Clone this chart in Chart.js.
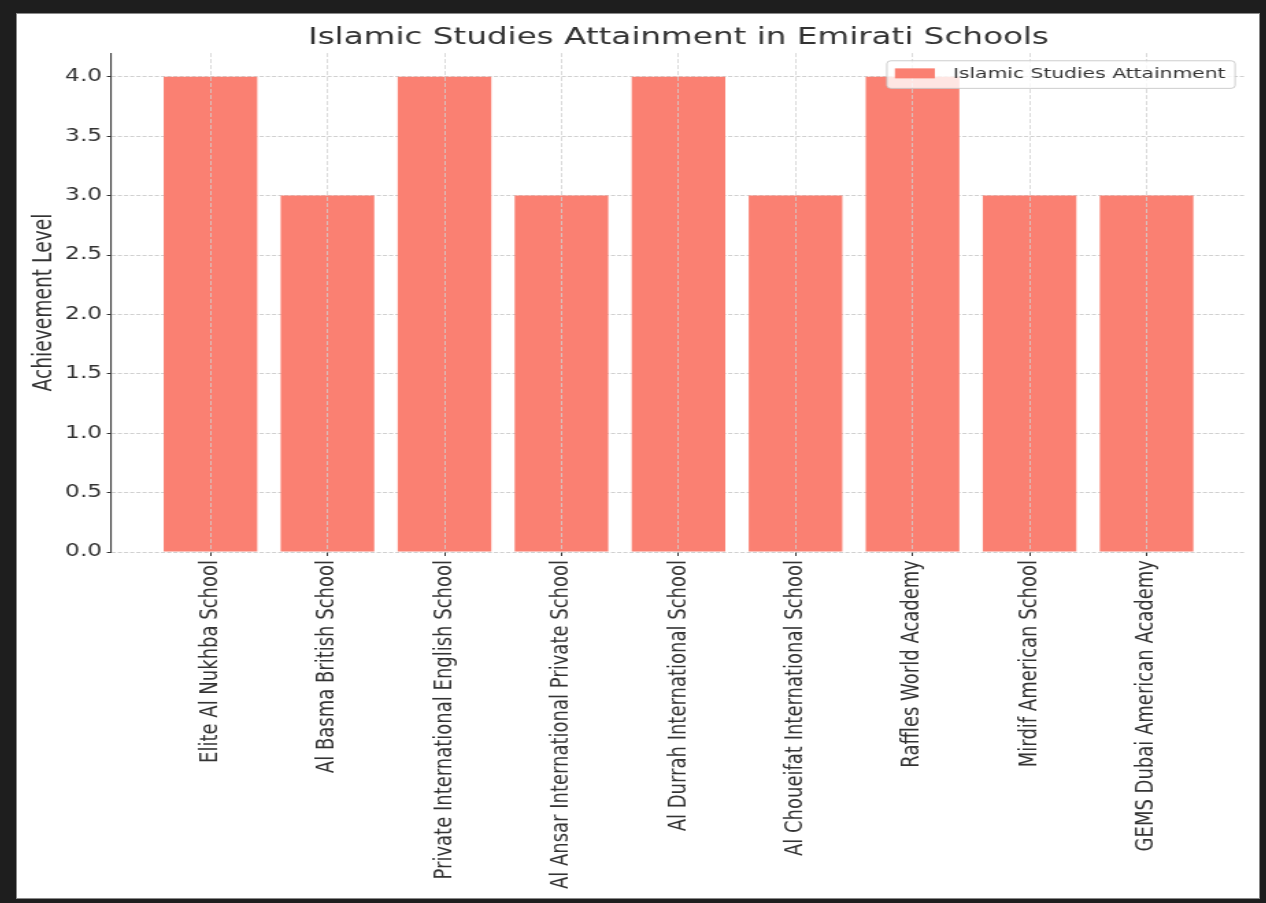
<!DOCTYPE html>
<html>
<head>
<meta charset="utf-8">
<script src="https://cdn.jsdelivr.net/npm/chart.js@4.4.1/dist/chart.umd.min.js"></script>
<style>
  html, body { margin: 0; padding: 0; background: #1e1e1e; }
  body { width: 1266px; height: 903px; position: relative; overflow: hidden; }
  #frame { position: absolute; left: 17px; top: 14px; width: 1242px; height: 884px; background: #fff; box-shadow: 0 0 0 1px #8a8a8a; overflow: hidden; }
  /* the source picture is stretched sideways, so the canvas is too */
  #chart { position: absolute; left: 0; top: -2px; transform: scaleX(1.37); transform-origin: 0 0; }
</style>
</head>
<body>
<div id="frame"><canvas id="chart" width="906" height="886"></canvas></div>
<script>
const chartTitle = 'Islamic Studies Attainment in Emirati Schools';
const seriesLabel = 'Islamic Studies Attainment';
const yAxisTitle = 'Achievement Level';
const schools = [
  'Elite Al Nukhba School',
  'Al Basma British School',
  'Private International English School',
  'Al Ansar International Private School',
  'Al Durrah International School',
  'Al Choueifat International School',
  'Raffles World Academy',
  'Mirdif American School',
  'GEMS Dubai American Academy'
];
const attainment = [4, 3, 4, 3, 4, 3, 4, 3, 3];
const yTickValues = [0, 0.5, 1, 1.5, 2, 2.5, 3, 3.5, 4];

const FONT = 'DejaVu Sans';
const TEXT = '#333333';
const GRID = '#d0d0d0';

// matplotlib-like legend with a frame, drawn on top of bars and grid
const legendBox = {
  id: 'legendBox',
  afterDraw(chart) {
    const ctx = chart.ctx;
    const area = chart.chartArea;
    const ds = chart.data.datasets[0];
    ctx.save();
    ctx.font = '14.8px "' + FONT + '"';
    const textW = ctx.measureText(ds.label).width;
    const w = 5.8 + 29.2 + 13.2 + textW + 7;
    const h = 27.6;
    const right = area.right - 8;
    const top = area.top + 7.7;
    const left = right - w;
    ctx.beginPath();
    if (ctx.roundRect) ctx.roundRect(left, top, w, h, 3);
    else ctx.rect(left, top, w, h);
    ctx.fillStyle = 'rgba(255,255,255,0.8)';
    ctx.fill();
    ctx.strokeStyle = 'rgba(200,200,200,0.9)';
    ctx.lineWidth = 1;
    ctx.stroke();
    ctx.fillStyle = ds.backgroundColor;
    ctx.fillRect(left + 5.8, top + 7.6, 29.2, 10);
    ctx.fillStyle = TEXT;
    ctx.textBaseline = 'middle';
    ctx.fillText(ds.label, left + 5.8 + 29.2 + 13.2, top + h / 2);
    ctx.restore();
  }
};

new Chart(document.getElementById('chart'), {
  type: 'bar',
  data: {
    datasets: [{
      label: seriesLabel,
      data: schools.map((s, i) => ({ x: i, y: attainment[i] })),
      backgroundColor: '#FA8072',
      borderWidth: 0,
      barPercentage: 0.8,
      categoryPercentage: 1.0
    }]
  },
  options: {
    responsive: false,
    animation: false,
    devicePixelRatio: 1,
    layout: { padding: { left: 0, right: 8.9, top: 0, bottom: 0 } },
    plugins: {
      legend: { display: false },
      tooltip: { enabled: false },
      title: {
        display: true,
        text: chartTitle,
        fullSize: false,
        color: TEXT,
        font: { family: FONT, size: 23.8, weight: 'normal' },
        padding: { top: 11.6, bottom: 0.9 }
      }
    },
    scales: {
      x: {
        type: 'linear',
        min: -0.85,
        max: 8.85,
        offset: false,
        afterFit: s => { s.height = 346; },
        afterBuildTicks: s => { s.ticks = schools.map((n, i) => ({ value: i })); },
        ticks: {
          callback: v => schools[v],
          autoSkip: false,
          minRotation: 90,
          maxRotation: 90,
          padding: 4,
          color: TEXT,
          font: { family: FONT, size: 18 }
        },
        grid: {
          offset: false,
          z: 1,
          color: GRID,
          lineWidth: 0.8,
          tickLength: 4,
          tickColor: TEXT,
          tickWidth: 1,
          tickBorderDash: []
        },
        border: { color: '#3a3a3a', width: 1.5, dash: [4, 2] }
      },
      y: {
        min: 0,
        max: 4.2,
        afterFit: s => { s.width = 68.6; },
        afterBuildTicks: s => { s.ticks = yTickValues.map(v => ({ value: v })); },
        ticks: {
          callback: v => v.toFixed(1),
          padding: 3.5,
          color: TEXT,
          font: { family: FONT, size: 17 }
        },
        grid: {
          offset: false,
          color: GRID,
          lineWidth: 1,
          tickLength: 3,
          tickColor: TEXT,
          tickWidth: 1,
          tickBorderDash: []
        },
        border: { color: '#3a3a3a', width: 1.1, dash: [3, 1.5] },
        title: {
          display: true,
          text: yAxisTitle,
          color: TEXT,
          font: { family: FONT, size: 18.7 },
          padding: { top: 9, bottom: 0 }
        }
      }
    }
  },
  plugins: [legendBox]
});
</script>
</body>
</html>
